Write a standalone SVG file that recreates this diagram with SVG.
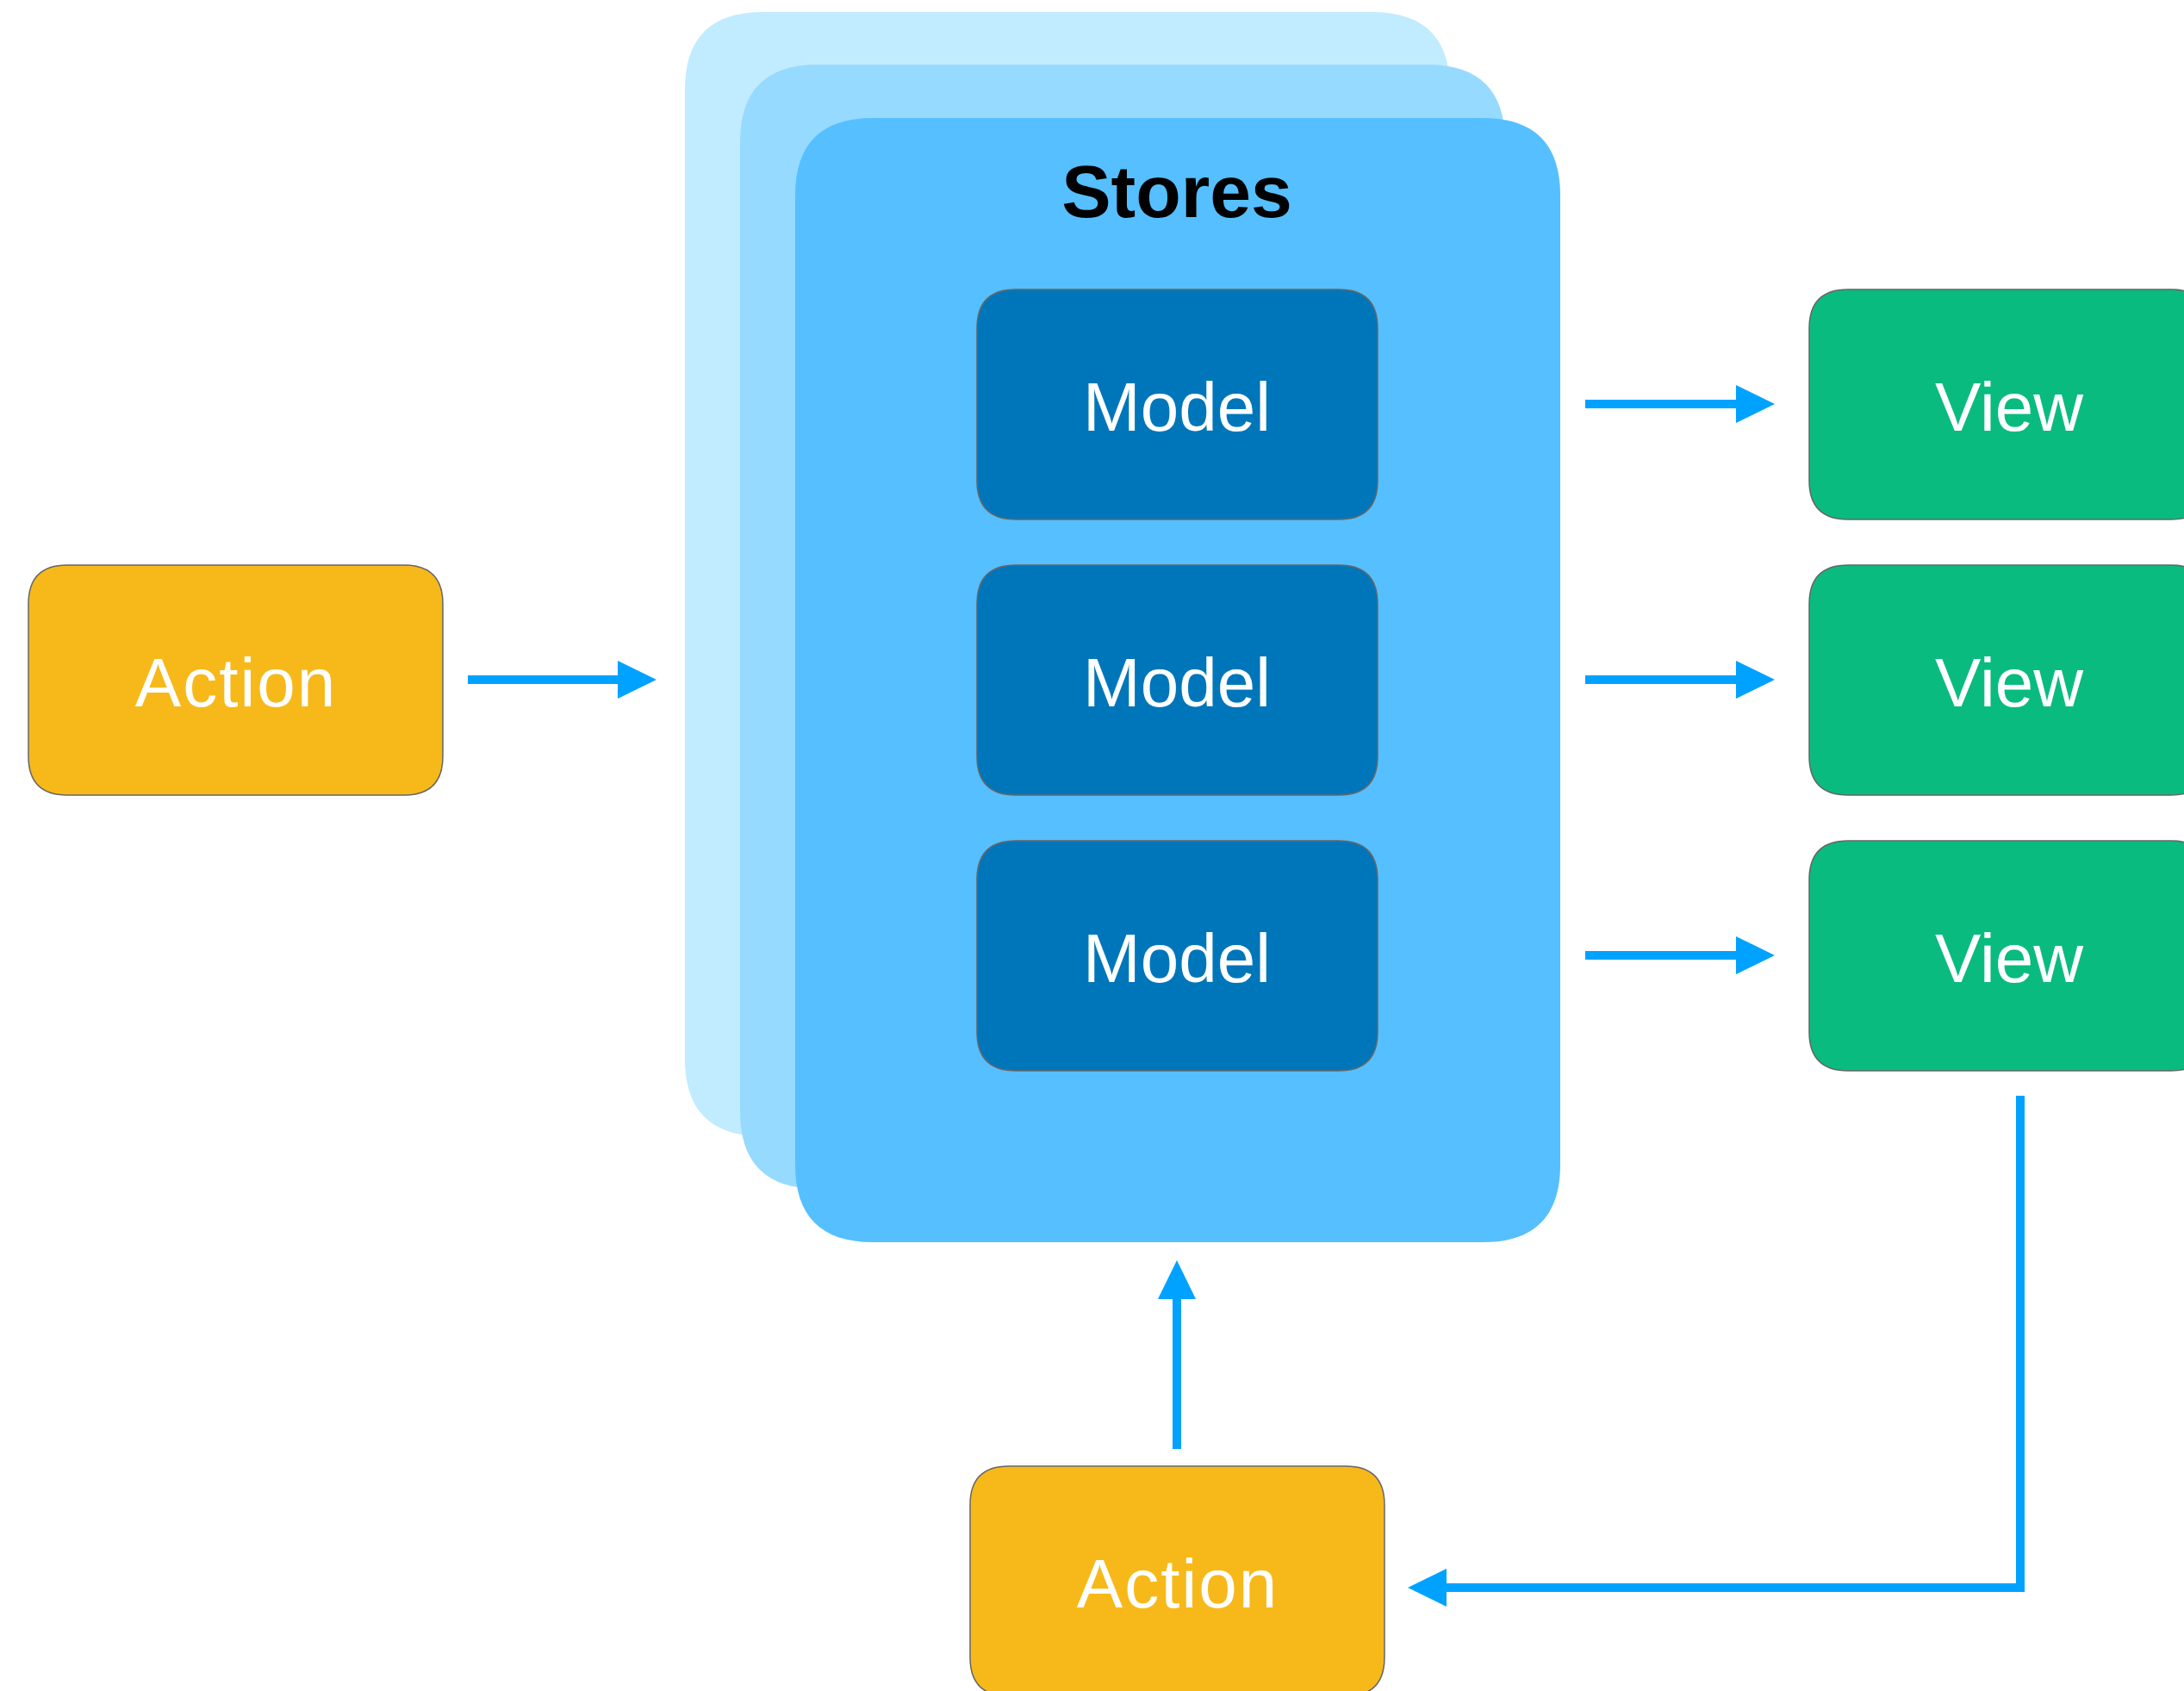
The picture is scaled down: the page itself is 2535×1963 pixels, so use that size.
<svg xmlns="http://www.w3.org/2000/svg" xmlns:xlink="http://www.w3.org/1999/xlink" width="2535" height="1963" viewBox="0 0 2535 1963">
  <style>
    .lbl { font-family: "Liberation Sans", Arial, sans-serif; font-size: 80px; fill: #ffffff; text-anchor: middle; }
    .wide { letter-spacing: 2px; }
    .title { font-family: "Liberation Sans", Arial, sans-serif; font-size: 86px; font-weight: bold; fill: #000000; text-anchor: middle; }
    .box { stroke: #666666; stroke-width: 1.5; }
    .action { fill: #F7B91A; }
    .model { fill: #0076BA; }
    .view { fill: #0ABB80; }
    .conn { fill: none; stroke: #00A2FF; stroke-width: 10; stroke-linejoin: miter; }
  </style>
  <defs>
    <path id="card" d="M90,0 H798 C858,0 888,30 888,90 V1215 C888,1275 858,1305 798,1305 H90 C30,1305 0,1275 0,1215 V90 C0,30 30,0 90,0 Z"/>
    <path id="mbox" d="M45,0 H420 C450,0 465,15 465,45 V222 C465,252 450,267 420,267 H45 C15,267 0,252 0,222 V45 C0,15 15,0 45,0 Z"/>
    <path id="abox" d="M45,0 H436 C466,0 481,15 481,45 V222 C481,252 466,267 436,267 H45 C15,267 0,252 0,222 V45 C0,15 15,0 45,0 Z"/>
    <marker id="head" markerUnits="userSpaceOnUse" markerWidth="45" markerHeight="44" viewBox="0 0 45 44" refX="0" refY="22" orient="auto">
      <path d="M0,0 L45,22 L0,44 Z" fill="#00A2FF"/>
    </marker>
  </defs>

  <g id="stores">
    <use xlink:href="#card" x="795" y="14" fill="#C1EBFF"/>
    <use xlink:href="#card" x="859" y="75" fill="#97DAFF"/>
    <use xlink:href="#card" x="923" y="137" fill="#56BFFF"/>
    <text class="title" x="1366" y="252">Stores</text>
  </g>

  <g id="model1">
    <use xlink:href="#mbox" x="1134" y="336" class="box model"/>
    <text class="lbl" x="1366" y="500">Model</text>
  </g>
  <g id="model2">
    <use xlink:href="#mbox" x="1134" y="656" class="box model"/>
    <text class="lbl" x="1366" y="820">Model</text>
  </g>
  <g id="model3">
    <use xlink:href="#mbox" x="1134" y="976" class="box model"/>
    <text class="lbl" x="1366" y="1140">Model</text>
  </g>

  <g id="view1">
    <use xlink:href="#mbox" x="2100" y="336" class="box view"/>
    <text class="lbl" x="2332" y="500">View</text>
  </g>
  <g id="view2">
    <use xlink:href="#mbox" x="2100" y="656" class="box view"/>
    <text class="lbl" x="2332" y="820">View</text>
  </g>
  <g id="view3">
    <use xlink:href="#mbox" x="2100" y="976" class="box view"/>
    <text class="lbl" x="2332" y="1140">View</text>
  </g>

  <g id="action1">
    <use xlink:href="#abox" x="33" y="656" class="box action"/>
    <text class="lbl wide" x="274" y="820">Action</text>
  </g>
  <g id="action2">
    <use xlink:href="#abox" x="1126" y="1702" class="box action"/>
    <text class="lbl wide" x="1367" y="1866">Action</text>
  </g>

  <g id="connectors">
    <path class="conn" d="M543,789 H717" marker-end="url(#head)"/>
    <path class="conn" d="M1840,469 H2015" marker-end="url(#head)"/>
    <path class="conn" d="M1840,789 H2015" marker-end="url(#head)"/>
    <path class="conn" d="M1840,1109 H2015" marker-end="url(#head)"/>
    <path class="conn" d="M1366,1682 V1508" marker-end="url(#head)"/>
    <path class="conn" d="M2345,1272 V1843 H1679" marker-end="url(#head)"/>
  </g>
</svg>
